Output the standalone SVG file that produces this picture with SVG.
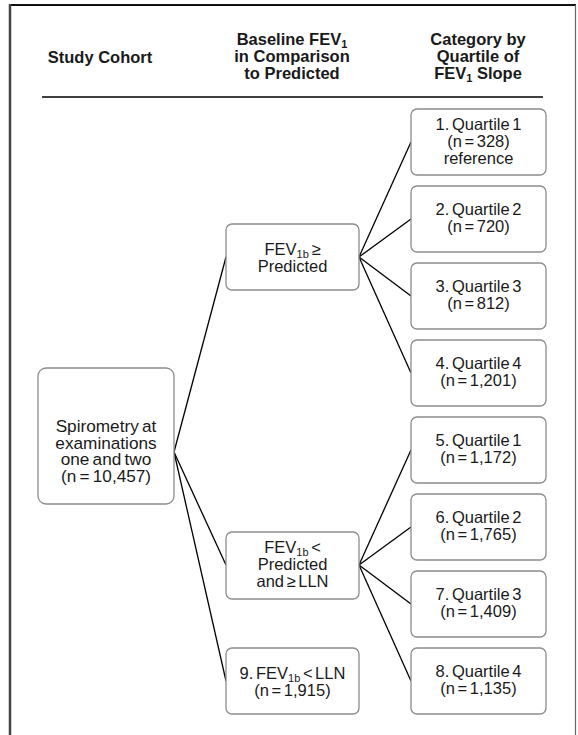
<svg xmlns="http://www.w3.org/2000/svg" width="578" height="735" viewBox="0 0 578 735">
<style>
text{font-family:"Liberation Sans",Arial,sans-serif;fill:#1a1a1a;text-anchor:middle}
.h{font-size:16.5px;font-weight:bold}
.t{font-size:16.5px;word-spacing:-2px}
.r{font-size:17.2px;word-spacing:-1.5px}
.box{fill:#fff;stroke:#8c8c8c;stroke-width:1.3}
.sub{font-size:11px}
#connectors line{stroke:#000;stroke-width:1.3}
</style>
<rect width="578" height="735" fill="#fff"/>
<g id="frame">
<line x1="9" y1="5" x2="576" y2="5" stroke="#111" stroke-width="2"/>
<line x1="10" y1="4" x2="10" y2="735" stroke="#444" stroke-width="2.5"/>
<line x1="575.5" y1="5" x2="575.5" y2="735" stroke="#666" stroke-width="1.2"/>
</g>
<g id="header">
<text class="h" x="100" y="63">Study Cohort</text>
<text class="h" x="292" y="45">Baseline FEV<tspan class="sub" baseline-shift="-3">1</tspan></text>
<text class="h" x="292" y="62">in Comparison</text>
<text class="h" x="292" y="79">to Predicted</text>
<text class="h" x="478" y="45">Category by</text>
<text class="h" x="478" y="62">Quartile of</text>
<text class="h" x="478" y="79">FEV<tspan class="sub" baseline-shift="-3">1</tspan> Slope</text>
<line x1="42" y1="97" x2="543" y2="97" stroke="#404040" stroke-width="2"/>
</g>
<g id="connectors">
<line x1="174" y1="452" x2="226" y2="257"/>
<line x1="174" y1="452" x2="226" y2="565"/>
<line x1="174" y1="452" x2="226" y2="681"/>
<line x1="359" y1="257" x2="411" y2="142"/>
<line x1="359" y1="257" x2="411" y2="219"/>
<line x1="359" y1="257" x2="411" y2="296"/>
<line x1="359" y1="257" x2="411" y2="373"/>
<line x1="359" y1="565" x2="411" y2="450"/>
<line x1="359" y1="565" x2="411" y2="527"/>
<line x1="359" y1="565" x2="411" y2="604"/>
<line x1="359" y1="565" x2="411" y2="681"/>
</g>
<g id="root">
<rect class="box" x="38" y="368" width="136" height="136" rx="8"/>
<text class="r" x="106" y="432">Spirometry at</text>
<text class="r" x="106" y="448.5">examinations</text>
<text class="r" x="106" y="465">one and two</text>
<text class="r" x="106" y="481.5">(n = 10,457)</text>
</g>
<g id="above">
<rect class="box" x="226" y="224" width="133" height="66" rx="6"/>
<text class="t" x="292.5" y="255">FEV<tspan class="sub" baseline-shift="-3">1b</tspan> ≥</text>
<text class="t" x="292.5" y="272">Predicted</text>
</g>
<g id="between">
<rect class="box" x="226" y="532" width="133" height="67" rx="6"/>
<text class="t" x="292.5" y="553">FEV<tspan class="sub" baseline-shift="-3">1b</tspan> &lt;</text>
<text class="t" x="292.5" y="570">Predicted</text>
<text class="t" x="292.5" y="587">and ≥ LLN</text>
</g>
<g id="n9">
<rect class="box" x="226" y="648" width="133" height="66" rx="6"/>
<text class="t" x="292.5" y="679">9. FEV<tspan class="sub" baseline-shift="-3">1b</tspan> &lt; LLN</text>
<text class="t" x="292.5" y="696">(n = 1,915)</text>
</g>
<g id="n1">
<rect class="box" x="411" y="109" width="135" height="66" rx="6"/>
<text class="t" x="478.5" y="130">1. Quartile 1</text>
<text class="t" x="478.5" y="147">(n = 328)</text>
<text class="t" x="478.5" y="164">reference</text>
</g>
<g id="n2">
<rect class="box" x="411" y="186" width="135" height="66" rx="6"/>
<text class="t" x="478.5" y="215">2. Quartile 2</text>
<text class="t" x="478.5" y="232">(n = 720)</text>
</g>
<g id="n3">
<rect class="box" x="411" y="263" width="135" height="66" rx="6"/>
<text class="t" x="478.5" y="292">3. Quartile 3</text>
<text class="t" x="478.5" y="309">(n = 812)</text>
</g>
<g id="n4">
<rect class="box" x="411" y="340" width="135" height="66" rx="6"/>
<text class="t" x="478.5" y="369">4. Quartile 4</text>
<text class="t" x="478.5" y="386">(n = 1,201)</text>
</g>
<g id="n5">
<rect class="box" x="411" y="417" width="135" height="66" rx="6"/>
<text class="t" x="478.5" y="446">5. Quartile 1</text>
<text class="t" x="478.5" y="463">(n = 1,172)</text>
</g>
<g id="n6">
<rect class="box" x="411" y="494" width="135" height="66" rx="6"/>
<text class="t" x="478.5" y="523">6. Quartile 2</text>
<text class="t" x="478.5" y="540">(n = 1,765)</text>
</g>
<g id="n7">
<rect class="box" x="411" y="571" width="135" height="66" rx="6"/>
<text class="t" x="478.5" y="600">7. Quartile 3</text>
<text class="t" x="478.5" y="617">(n = 1,409)</text>
</g>
<g id="n8">
<rect class="box" x="411" y="648" width="135" height="66" rx="6"/>
<text class="t" x="478.5" y="677">8. Quartile 4</text>
<text class="t" x="478.5" y="694">(n = 1,135)</text>
</g>
</svg>
